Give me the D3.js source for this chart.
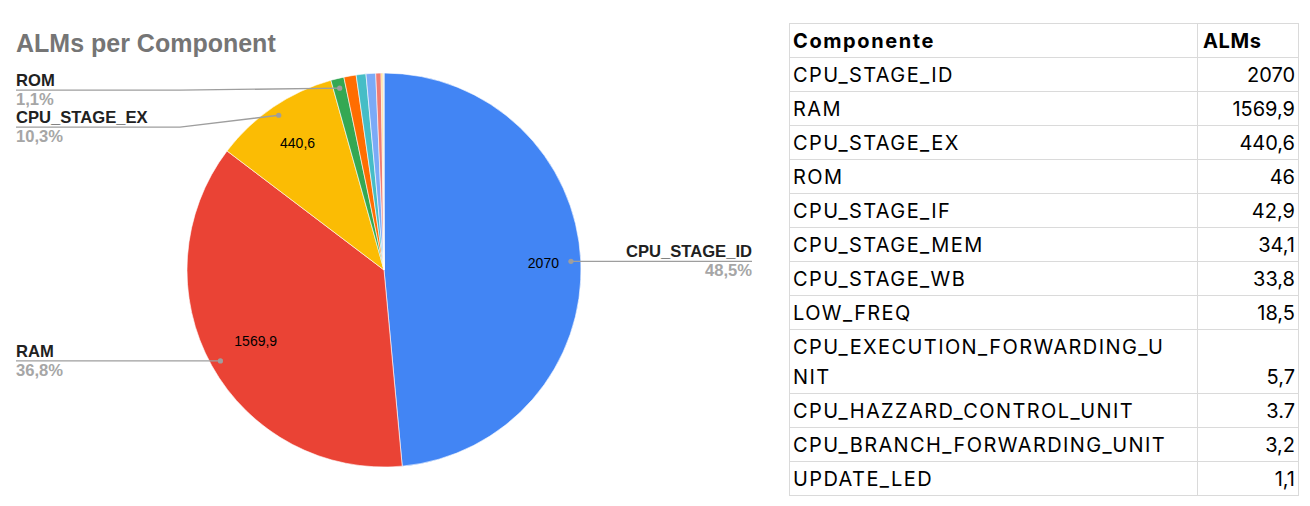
<!DOCTYPE html>
<html>
<head>
<meta charset="utf-8">
<script src="https://cdn.jsdelivr.net/npm/d3@7"></script>
<style>
  body { margin: 0; background: #fff; }
  svg { display: block; font-family: "Liberation Sans", Arial, sans-serif; }
</style>
</head>
<body>
<svg id="chart" width="1310" height="506"></svg>
<script>
// Data
const components = [
  "CPU_STAGE_ID", "RAM", "CPU_STAGE_EX", "ROM", "CPU_STAGE_IF", "CPU_STAGE_MEM",
  "CPU_STAGE_WB", "LOW_FREQ", "CPU_EXECUTION_FORWARDING_UNIT",
  "CPU_HAZZARD_CONTROL_UNIT", "CPU_BRANCH_FORWARDING_UNIT", "UPDATE_LED"
];
// cell text as shown in the sheet (3.7 is stored as text, so it is not in the pie)
const cellText = ["2070", "1569,9", "440,6", "46", "42,9", "34,1", "33,8", "18,5", "5,7", "3.7", "3,2", "1,1"];
const alms = [2070, 1569.9, 440.6, 46, 42.9, 34.1, 33.8, 18.5, 5.7, null, 3.2, 1.1];
// slices that get an outside label, and which get an inside value
const labelled = ["CPU_STAGE_ID", "RAM", "CPU_STAGE_EX", "ROM"];
const insideValue = ["CPU_STAGE_ID", "RAM", "CPU_STAGE_EX"];
const colours = ["#4285F4", "#EA4335", "#FBBC04", "#34A853", "#FF6D01", "#46BDC6",
  "#7BAAF7", "#F07B72", "#FCD04F", "#71C287", "#FF994D", "#7ED1D7"];

const svg = d3.select("#chart");
const fmt = (v) => String(v).replace(".", ",");

// Title
svg.append("text")
  .attr("x", 16).attr("y", 52)
  .attr("font-size", 25).attr("font-weight", "bold")
  .attr("fill", "#757575")
  .text("ALMs per Component");

// Pie
const cx = 384, cy = 270, r = 197;
const rows = components.map((c, i) => ({ name: c, value: alms[i], colour: colours[i] }))
  .filter((d) => d.value != null);
const total = d3.sum(rows, (d) => d.value);

const pie = d3.pie().sort(null).value((d) => d.value);
const arc = d3.arc().innerRadius(0).outerRadius(r);
const arcs = pie(rows);

const g = svg.append("g").attr("transform", `translate(${cx},${cy})`);
g.selectAll("path")
  .data(arcs)
  .enter()
  .append("path")
  .attr("d", arc)
  .attr("fill", (d) => d.data.colour)
  .attr("stroke", "#fff")
  .attr("stroke-width", 0.6);

// values inside the big slices (distance from centre as a share of the radius)
const valueRadius = { "CPU_STAGE_ID": 0.81, "RAM": 0.745, "CPU_STAGE_EX": 0.78 };
g.selectAll("text.val")
  .data(arcs.filter((d) => insideValue.includes(d.data.name)))
  .enter()
  .append("text")
  .attr("class", "val")
  .attr("transform", (d) => {
    const k = r * valueRadius[d.data.name];
    const p = d3.arc().innerRadius(k).outerRadius(k).centroid(d);
    return `translate(${p[0]},${p[1]})`;
  })
  .attr("text-anchor", "middle")
  .attr("dy", "0.35em")
  .attr("font-size", 14)
  .attr("fill", "#000")
  .text((d) => fmt(d.data.value));

// outside labels with leader lines
const dotArc = d3.arc().innerRadius(r * 0.95).outerRadius(r * 0.95);
const lab = arcs.filter((d) => labelled.includes(d.data.name)).map((d) => {
  const p = dotArc.centroid(d);
  const mid = (d.startAngle + d.endAngle) / 2;
  return { d, x: cx + p[0], y: cy + p[1], right: mid < Math.PI };
});
// push left-side labels apart
const left = lab.filter((l) => !l.right).sort((a, b) => a.y - b.y);
left.forEach((l, i) => {
  l.ly = i === 0 ? l.y + 2 : Math.max(l.y, left[i - 1].ly + 37);
});
lab.filter((l) => l.right).forEach((l) => { l.ly = l.y; });

const lg = svg.append("g");
lab.forEach((l) => {
  const xEnd = l.right ? 752 : 16;
  const pts = l.right ? [[l.x, l.y], [xEnd, l.ly]]
    : [[l.x, l.y], [180, l.ly], [xEnd, l.ly]];
  lg.append("path")
    .attr("d", d3.line()(pts))
    .attr("fill", "none")
    .attr("stroke", "#9e9e9e")
    .attr("stroke-width", 1.3);
  lg.append("circle")
    .attr("cx", l.x).attr("cy", l.y).attr("r", 2.6)
    .attr("fill", "#9e9e9e");
  lg.append("text")
    .attr("x", xEnd).attr("y", l.ly - 4)
    .attr("text-anchor", l.right ? "end" : "start")
    .attr("font-size", 16.6).attr("font-weight", "bold")
    .attr("fill", "#212121")
    .text(l.d.data.name);
  lg.append("text")
    .attr("x", xEnd).attr("y", l.ly + 15)
    .attr("text-anchor", l.right ? "end" : "start")
    .attr("font-size", 16.6).attr("font-weight", "bold")
    .attr("fill", "#a6a6a6")
    .text(fmt((l.d.data.value / total * 100).toFixed(1)) + "%");
});

// Table
const tx0 = 789, tx1 = 1197, tx2 = 1298, ty0 = 23, rowH = 34;
const tableRows = [{ name: ["Componente"], value: "ALMs", head: true }]
  .concat(components.map((c, i) => ({
    name: c.length > 26 ? [c.slice(0, 26), c.slice(26)] : [c],
    value: cellText[i]
  })));
let y = ty0;
tableRows.forEach((row) => { row.y = y; row.h = row.name.length === 2 ? 64 : rowH; y += row.h; });
const ty1 = y;

const tg = svg.append("g").attr("font-family", "Inter, 'Liberation Sans', sans-serif");
tg.selectAll("line.h")
  .data(tableRows.map((d) => d.y).concat([ty1]))
  .enter()
  .append("line")
  .attr("x1", tx0).attr("x2", tx2)
  .attr("y1", (d) => d + 0.5).attr("y2", (d) => d + 0.5)
  .attr("stroke", "#dadada");
tg.selectAll("line.v")
  .data([tx0, tx1, tx2])
  .enter()
  .append("line")
  .attr("x1", (d) => d + 0.5).attr("x2", (d) => d + 0.5)
  .attr("y1", ty0).attr("y2", ty1 + 1)
  .attr("stroke", "#dadada");

function cell(x, y, text, opts) {
  tg.append("text")
    .attr("x", x).attr("y", y)
    .attr("text-anchor", opts.anchor || "start")
    .attr("font-size", 20)
    .attr("letter-spacing", opts.spacing || 0)
    .attr("font-weight", opts.bold ? "bold" : "normal")
    .attr("fill", "#000")
    .text(text);
}

tableRows.forEach((row) => {
  row.name.forEach((part, k) => {
    cell(tx0 + 4, row.y + 25 + k * 30, part, { bold: row.head, spacing: row.head ? 1.6 : 1.4 });
  });
  if (row.head) {
    cell(tx1 + 6, row.y + 25, row.value, { bold: true, spacing: 0.6 });
  } else {
    cell(tx2 - 3, row.y + row.h - 9, row.value, { anchor: "end" });
  }
});
</script>
</body>
</html>
